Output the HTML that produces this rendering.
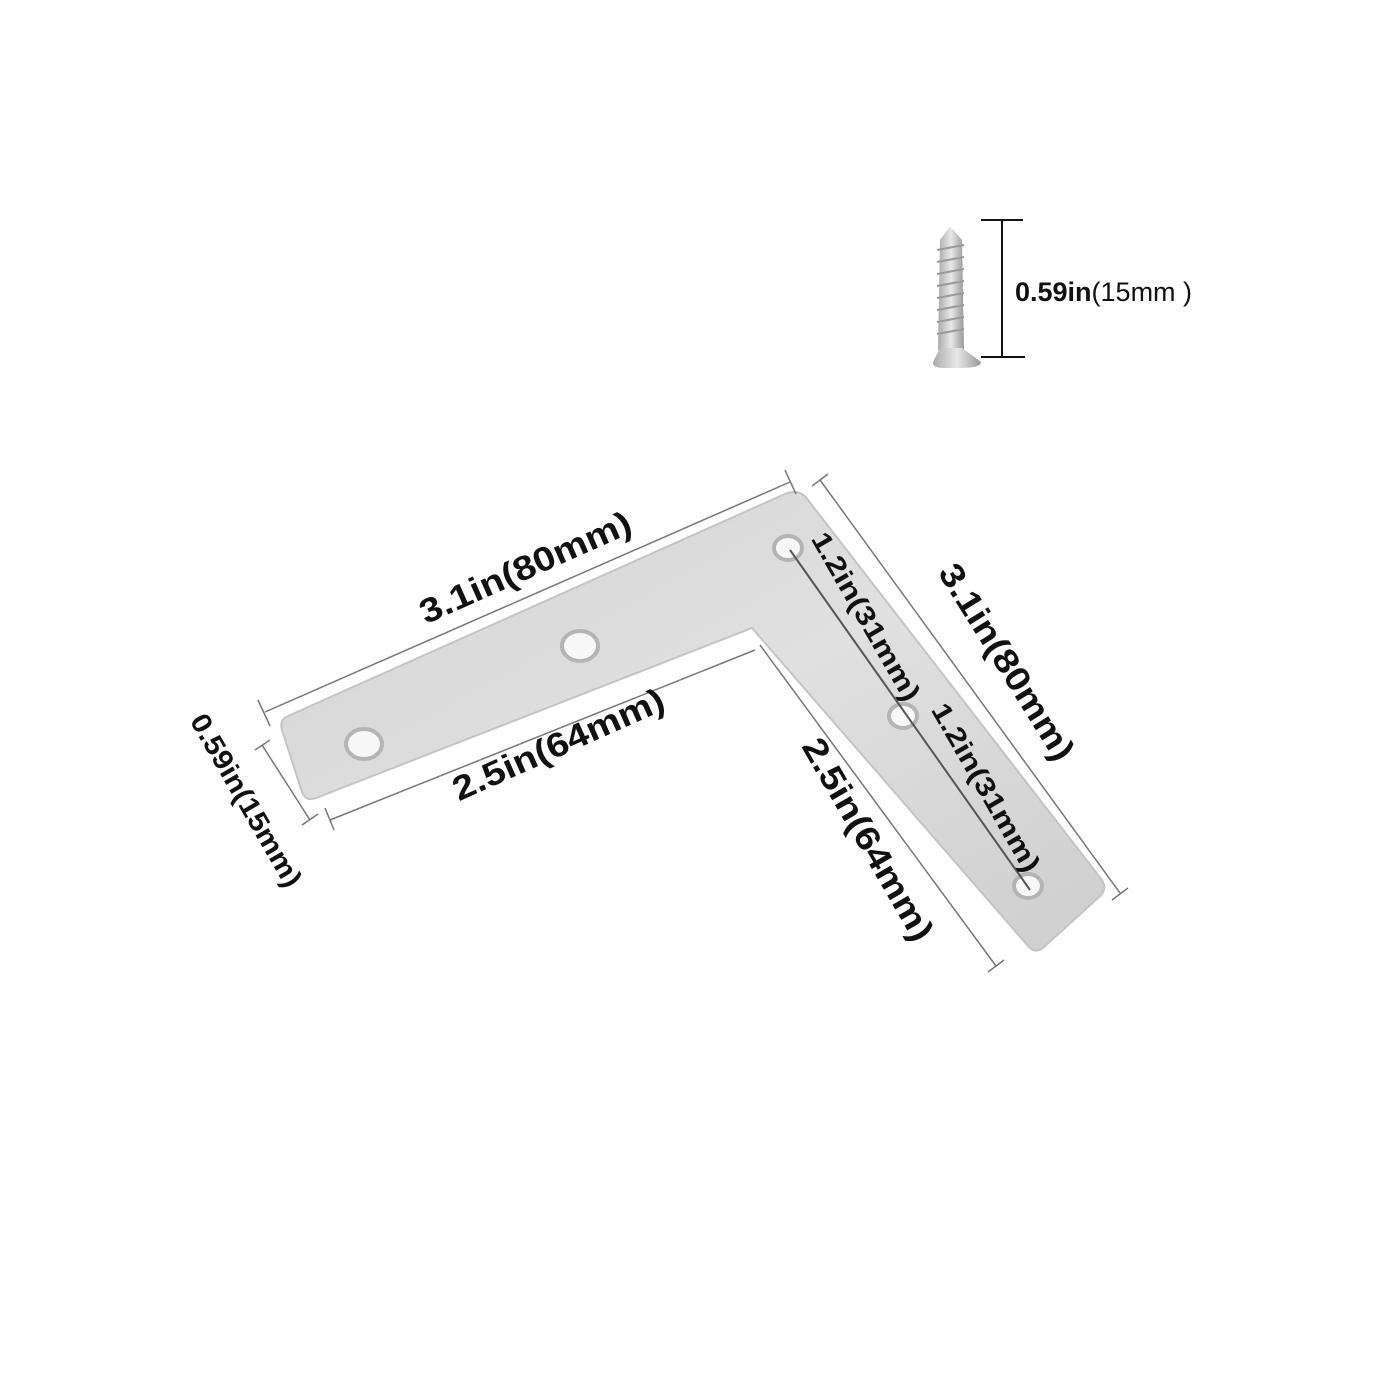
<!DOCTYPE html>
<html><head><meta charset="utf-8"><style>
html,body{margin:0;padding:0;background:#fff;width:1400px;height:1400px;overflow:hidden}
text{font-family:"Liberation Sans",sans-serif;font-weight:bold;fill:#111}
</style></head><body>
<svg width="1400" height="1400" viewBox="0 0 1400 1400" xmlns="http://www.w3.org/2000/svg">
<defs>
<linearGradient id="g" x1="0" y1="0" x2="1" y2="1">
<stop offset="0" stop-color="#d2d2d2"/><stop offset="0.5" stop-color="#e0e0e0"/><stop offset="1" stop-color="#cecece"/>
</linearGradient>
<linearGradient id="sg" x1="0" y1="0" x2="1" y2="0">
<stop offset="0" stop-color="#aaa"/><stop offset="0.5" stop-color="#e8e8e8"/><stop offset="1" stop-color="#999"/>
</linearGradient>
</defs>
<!-- screw -->
<polygon points="950,226 940,240 938,350 944,352 958,352 964,350 962,240" fill="url(#sg)"/>
<g stroke="#9a9a9a" stroke-width="2">
<line x1="937" y1="250" x2="964" y2="245"/><line x1="937" y1="262" x2="964" y2="257"/><line x1="937" y1="274" x2="964" y2="269"/><line x1="937" y1="286" x2="964" y2="281"/><line x1="937" y1="298" x2="964" y2="293"/><line x1="937" y1="310" x2="964" y2="305"/><line x1="937" y1="322" x2="964" y2="317"/><line x1="937" y1="334" x2="964" y2="329"/>
</g>
<path d="M940,348 L962,348 L981,362 Q981,368 960,368 L944,368 Q932,368 933,362 Z" fill="url(#sg)"/>
<g stroke="#111" stroke-width="2">
<line x1="981" y1="220" x2="1023" y2="220"/><line x1="1002" y1="220" x2="1002" y2="356"/><line x1="981" y1="357" x2="1025" y2="357"/>
</g>
<text x="1015" y="301" font-size="27">0.59in<tspan font-weight="normal">(15mm )</tspan></text>
<!-- bracket -->
<path d="M288,716 L785,494 Q800,488 808,500 L1102,880 Q1108,890 1098,898 L1043,948 Q1035,954 1028,946 L752,628 L316,798 Q306,802 302,792 L282,730 Q279,720 288,716 Z" fill="url(#g)" stroke="#c4c4c4" stroke-width="2"/>
<g fill="#f7f7f7" stroke="#b4b4b4" stroke-width="4">
<ellipse cx="364" cy="744" rx="18" ry="15"/>
<ellipse cx="580" cy="646" rx="18" ry="15"/>
<ellipse cx="788" cy="548" rx="14" ry="12"/>
<ellipse cx="903" cy="716" rx="14" ry="12"/>
<ellipse cx="1028" cy="886" rx="14" ry="12"/>
</g>
<!-- dimension lines -->
<g stroke="#777" stroke-width="1.5" fill="none">
<line x1="265" y1="712" x2="790" y2="482"/><line x1="258" y1="700" x2="270" y2="726"/><line x1="785" y1="470" x2="796" y2="494"/>
<line x1="820" y1="480" x2="1120" y2="893"/><line x1="812" y1="486" x2="828" y2="474"/><line x1="1112" y1="900" x2="1128" y2="888"/>
<line x1="262" y1="745" x2="310" y2="820"/><line x1="255" y1="750" x2="270" y2="740"/><line x1="302" y1="825" x2="318" y2="814"/>
<line x1="330" y1="820" x2="755" y2="650"/><line x1="325" y1="808" x2="334" y2="830"/>
<line x1="760" y1="645" x2="996" y2="966"/><line x1="988" y1="972" x2="1004" y2="960"/>
</g>
<line x1="790" y1="550" x2="1030" y2="890" stroke="#555" stroke-width="2"/>
<!-- labels -->
<text font-size="34" transform="translate(530,578) rotate(-24)" text-anchor="middle" textLength="228" lengthAdjust="spacingAndGlyphs">3.1in(80mm)</text>
<text font-size="34" transform="translate(563,755) rotate(-24)" text-anchor="middle" textLength="228" lengthAdjust="spacingAndGlyphs">2.5in(64mm)</text>
<text font-size="28" transform="translate(238,805) rotate(60)" text-anchor="middle" textLength="195" lengthAdjust="spacingAndGlyphs">0.59in(15mm)</text>
<text font-size="27" transform="translate(858,621) rotate(60)" text-anchor="middle" font-weight="normal" textLength="190" lengthAdjust="spacingAndGlyphs">1.2in(31mm)</text>
<text font-size="27" transform="translate(978,792) rotate(60)" text-anchor="middle" font-weight="normal" textLength="190" lengthAdjust="spacingAndGlyphs">1.2in(31mm)</text>
<text font-size="34" transform="translate(997,668) rotate(58)" text-anchor="middle" textLength="225" lengthAdjust="spacingAndGlyphs">3.1in(80mm)</text>
<text font-size="34" transform="translate(858,845) rotate(60)" text-anchor="middle" textLength="228" lengthAdjust="spacingAndGlyphs">2.5in(64mm)</text>
</svg>
</body></html>
